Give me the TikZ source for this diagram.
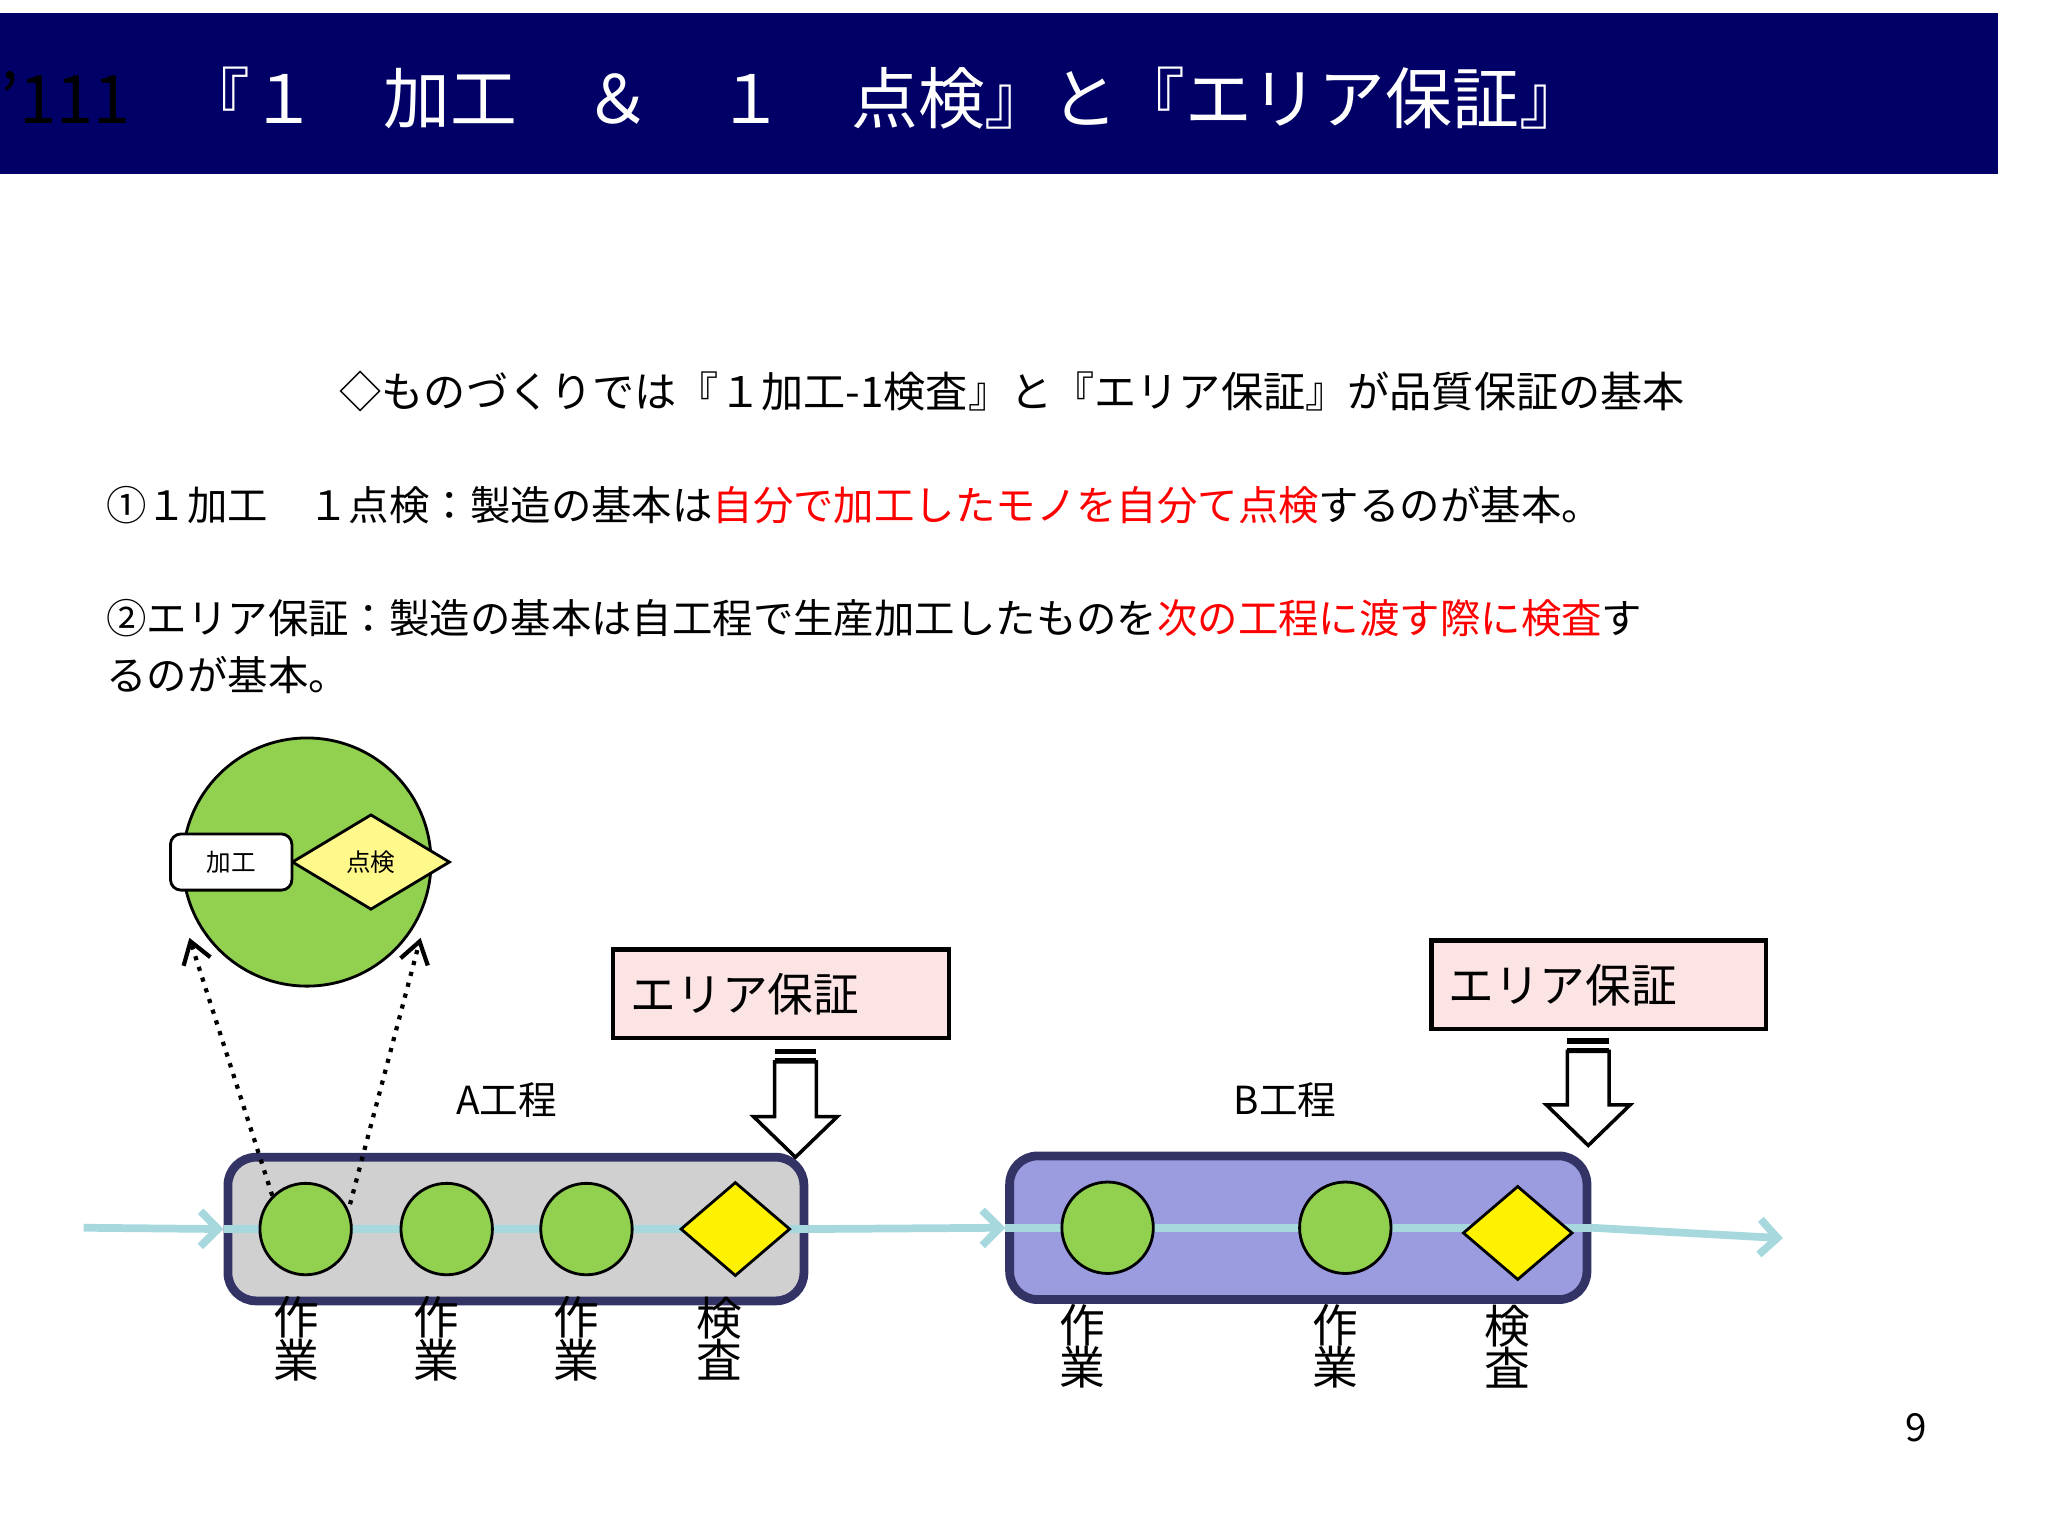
\documentclass[tikz,border=0pt]{standalone}
\usepackage{fontspec}
\setmainfont{Noto Sans CJK JP}
\usetikzlibrary{shapes.geometric,arrows.meta}
\definecolor{navy}{HTML}{000066}
\definecolor{lgreen}{HTML}{92D050}
\definecolor{flow}{HTML}{A6D8DE}
\definecolor{pinkbox}{HTML}{FCE4E4}
\definecolor{boxA}{HTML}{D0D0D0}
\definecolor{boxB}{HTML}{9B9BE0}
\definecolor{frame}{HTML}{333366}
\tikzset{
 work/.style={circle,draw,fill=lgreen,minimum size=70*0.01306cm,inner sep=0,line width=0.8pt},
 insp/.style={diamond,draw,fill=yellow,minimum width=84*0.01306cm,minimum height=72*0.01306cm,inner sep=0,aspect=1.15,line width=0.8pt},
 proc/.style={draw=frame,line width=2.5pt,rounded corners=8pt},
 lab/.style={font=\fontsize{13}{14}\selectfont,align=center},
 area/.style={draw,line width=1.2pt,fill=pinkbox,font=\fontsize{13}{14}\selectfont},
 flowarrow/.style={flow,line width=2.2pt,-{Straight Barb[length=5pt,width=10pt]}},
 body/.style={font=\fontsize{11.5}{14}\selectfont,anchor=west}
}
\begin{document}
\begin{tikzpicture}[x=0.01306cm,y=-0.01306cm]
\useasboundingbox (0,0) rectangle (1568,1176);
\fill[navy] (0,10) rectangle (1530,133);
\node[anchor=west,font=\fontsize{19}{20}\selectfont,inner sep=0] (t0) at (0,75) {'111};
\node[anchor=west,font=\fontsize{19}{20}\selectfont,text=white,inner sep=0] (title) at (140,75) {『１　加工　＆　１　点検』と『エリア保証』};
\node[font=\fontsize{12}{14}\selectfont] (l1) at (775,300) {◇ものづくりでは『１加工-1検査』と『エリア保証』が品質保証の基本};
\node[body] (l2) at (72,387) {①１加工　１点検：製造の基本は\textcolor{red}{自分で加工したモノを自分て点検}するのが基本。};
\node[body] (l3) at (72,473) {②エリア保証：製造の基本は自工程で生産加工したものを\textcolor{red}{次の工程に渡す際に検査}す};
\node[body] (l4) at (72,517) {るのが基本。};
% zoom circle
\node[circle,draw,fill=lgreen,line width=0.8pt,minimum size=190*0.01306cm] (big) at (235,660) {};
\node[diamond,draw,fill=yellow!45,line width=0.8pt,minimum width=121*0.01306cm,minimum height=73*0.01306cm,aspect=1.6,inner sep=0,font=\fontsize{7}{8}\selectfont] (kd) at (284,660) {点検};
\node[draw,fill=white,rounded corners=3pt,line width=0.8pt,minimum width=93*0.01306cm,minimum height=43*0.01306cm,font=\fontsize{7}{8}\selectfont] (kk) at (177,660) {加工};
% process boxes
\node[proc,fill=boxA,minimum width=441*0.01306cm,minimum height=110*0.01306cm] (A) at (395,941) {};
\node[proc,fill=boxB,minimum width=442*0.01306cm,minimum height=110*0.01306cm] (B) at (994,940) {};
\coordinate (in) at (64,940);
\coordinate (out) at (1365,948);
\draw[flowarrow] (in) -- (A.west);
\draw[flowarrow] (A.east) -- (B.west);
\draw[flowarrow] (B.east) -- (out);
\draw[flow,line width=2.2pt] (A.west) -- (A.east);
\draw[flow,line width=2.2pt] (B.west) -- (B.east);
\node[work] (a1) at (234,941) {};
\node[work] (a2) at (342,941) {};
\node[work] (a3) at (449,941) {};
\node[insp] (a4) at (563,941) {};
\node[work] (b1) at (848,940) {};
\node[work] (b2) at (1030,940) {};
\node[insp] (b3) at (1162,944) {};
\node[lab] at (227,1025) {作\\[-2pt]業};
\node[lab] at (334,1025) {作\\[-2pt]業};
\node[lab] at (441,1025) {作\\[-2pt]業};
\node[lab] at (551,1025) {検\\[-2pt]査};
\node[lab] at (829,1031) {作\\[-2pt]業};
\node[lab] at (1022,1031) {作\\[-2pt]業};
\node[lab] at (1154,1031) {検\\[-2pt]査};
\node[font=\fontsize{11}{12}\selectfont] (Al) at (388,842) {A工程};
\node[font=\fontsize{11}{12}\selectfont] (Bl) at (984,842) {B工程};
% dotted zoom arrows
\draw[dotted,line width=1.2pt,-{Straight Barb[length=6pt,width=8pt]}] (a1.north west) -- (145,718);
\draw[dotted,line width=1.2pt,-{Straight Barb[length=6pt,width=8pt]}] (268,922) -- (322,718);
% area boxes
\node[area,minimum width=257*0.01306cm,minimum height=68*0.01306cm,text width=230*0.01306cm,align=left] (e1) at (598,761) {エリア保証};
\node[area,minimum width=256*0.01306cm,minimum height=68*0.01306cm,text width=230*0.01306cm,align=left] (e2) at (1224,754) {エリア保証};
% hollow down arrows
\foreach \x/\y/\t in {609/803/886, 1216/795/877}{
 \draw[fill=white,line width=1pt] (\x-16,\y+10) -- (\x+16,\y+10) -- (\x+16,\t-31) -- (\x+32,\t-31) -- (\x,\t) -- (\x-32,\t-31) -- (\x-16,\t-31) -- cycle;
 \fill (\x-16,\y) rectangle (\x+16,\y+4);
 \fill (\x-16,\y+7) rectangle (\x+16,\y+10);
}
\node (pg) at (1467,1093) {\fontsize{11}{12}\selectfont 9};
\end{tikzpicture}
\end{document}
